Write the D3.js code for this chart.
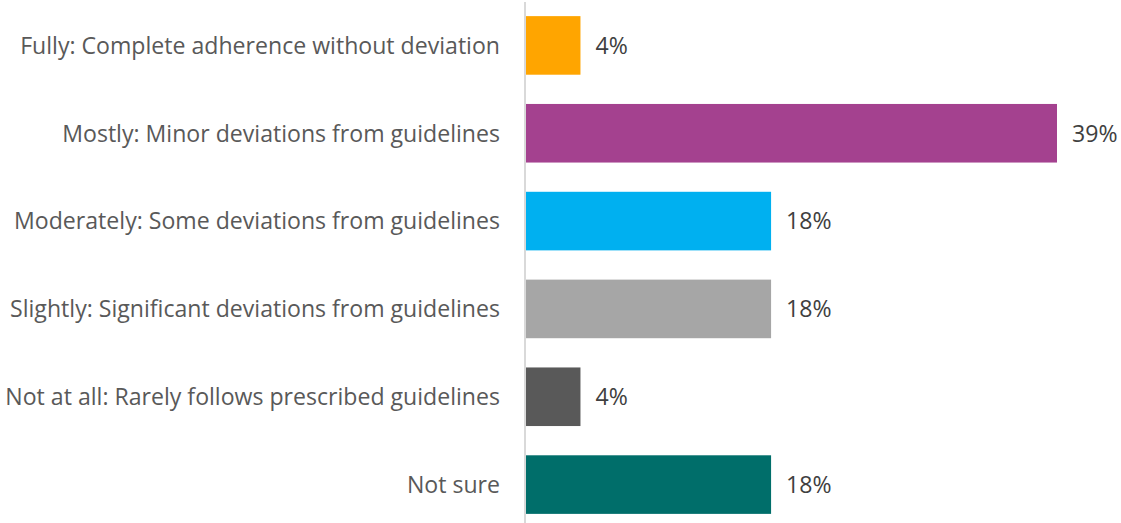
<!DOCTYPE html>
<html>
<head>
<meta charset="utf-8">
<script src="https://cdn.jsdelivr.net/npm/d3@7"></script>
<style>
  html, body { margin: 0; padding: 0; background: #ffffff; }
  svg { display: block; }
</style>
</head>
<body>
<svg id="chart" width="1121" height="523"></svg>
<script>
// Survey responses: adherence to prescribed guidelines
const categories = [
  "Fully: Complete adherence without deviation",
  "Mostly: Minor deviations from guidelines",
  "Moderately: Some deviations from guidelines",
  "Slightly: Significant deviations from guidelines",
  "Not at all: Rarely follows prescribed guidelines",
  "Not sure"
];
const values = [4, 39, 18, 18, 4, 18];
const colors = ["#FFA500", "#A4418F", "#00B0F0", "#A6A6A6", "#595959", "#006E6A"];

const svg = d3.select("#chart");
const W = 1121, H = 523;
const axisX = 525;
const fontFamily = "'Open Sans', 'Noto Sans', sans-serif";
const fontSize = 23.1;

const y = d3.scaleBand()
  .domain(categories)
  .range([1.5, 528.5])
  .paddingInner(0.333)
  .paddingOuter(0.1665);

const x = d3.scaleLinear()
  .domain([0, 39])
  .range([axisX + 1, axisX + 1 + 531]);

// bars
svg.append("g")
  .selectAll("rect")
  .data(categories)
  .join("rect")
  .attr("x", x(0))
  .attr("y", d => y(d))
  .attr("width", (d, i) => x(values[i]) - x(0))
  .attr("height", y.bandwidth())
  .attr("fill", (d, i) => colors[i]);

// category axis (line only, labels drawn to the left)
const axis = d3.axisLeft(y).tickSize(0).tickPadding(25);
const gAxis = svg.append("g")
  .attr("transform", `translate(${axisX},0)`)
  .call(axis);
gAxis.select(".domain")
  .attr("d", `M0,2V${H}`)
  .attr("stroke", "#D9D9D9")
  .attr("stroke-width", 2);
gAxis.selectAll(".tick text")
  .attr("font-family", fontFamily)
  .attr("font-size", fontSize)
  .attr("fill", "#595959")
  .attr("dy", "0.36em");

// value labels
svg.append("g")
  .selectAll("text")
  .data(categories)
  .join("text")
  .attr("x", (d, i) => x(values[i]) + 15)
  .attr("y", d => y(d) + y.bandwidth() / 2)
  .attr("dy", "0.36em")
  .attr("font-family", fontFamily)
  .attr("font-size", fontSize)
  .attr("fill", "#404040")
  .text((d, i) => values[i] + "%");
</script>
</body>
</html>
